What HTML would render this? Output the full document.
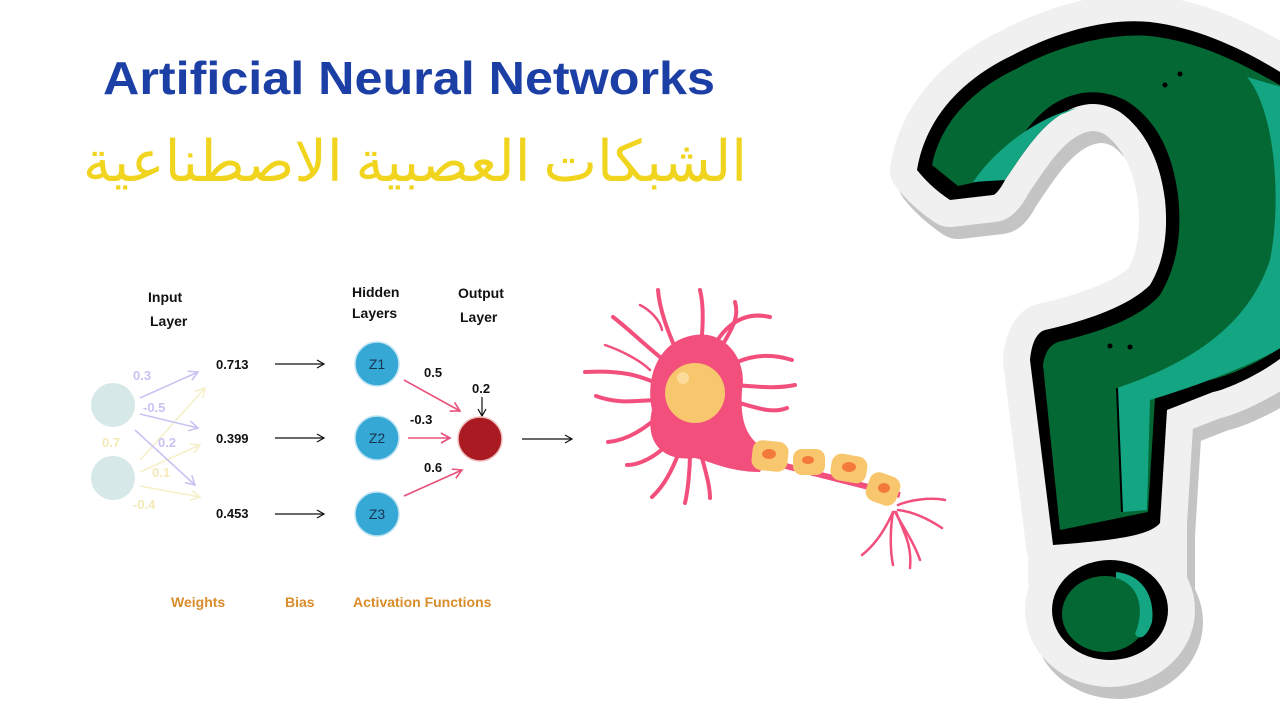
<!DOCTYPE html>
<html><head><meta charset="utf-8"><style>
body{margin:0;width:1280px;height:720px;background:#fff;overflow:hidden;position:relative;font-family:"Liberation Sans",sans-serif}
svg{position:absolute;left:0;top:0}
#ar{position:absolute;left:40px;top:112px;width:750px;text-align:center;direction:rtl;font-family:"Noto Sans CJK SC","DejaVu Sans",sans-serif;font-size:57px;line-height:90px;color:#f1d41e;white-space:nowrap}
</style></head><body>
<svg width="1280" height="720" viewBox="0 0 1280 720" xmlns="http://www.w3.org/2000/svg">
<defs>
<marker id="ab" markerWidth="10" markerHeight="10" refX="8" refY="5" orient="auto" markerUnits="userSpaceOnUse"><path d="M1,1 L8,5 L1,9" fill="none" stroke="#111" stroke-width="1.2"/></marker>
<marker id="ap" markerWidth="12" markerHeight="12" refX="10" refY="6" orient="auto" markerUnits="userSpaceOnUse"><path d="M1,1 L10,6 L1,11" fill="none" stroke="#e8507a" stroke-width="1.6"/></marker>
<marker id="av" markerWidth="12" markerHeight="12" refX="10" refY="6" orient="auto" markerUnits="userSpaceOnUse"><path d="M1,1 L10,6 L1,11" fill="none" stroke="#c9c3f2" stroke-width="1.6"/></marker>
<marker id="ay" markerWidth="12" markerHeight="12" refX="10" refY="6" orient="auto" markerUnits="userSpaceOnUse"><path d="M1,1 L10,6 L1,11" fill="none" stroke="#f6f0c8" stroke-width="1.6"/></marker>
<path id="qh" d="M917,170 C925,120 960,80 1013,55 C1060,30 1110,18 1150,22 C1200,28 1245,50 1285,75 L1285,355 C1260,375 1225,390 1213,392 L1167,410 L1160,523 C1150,535 1120,540 1053,545 L1030,360 C1032,340 1038,332 1045,330 C1090,320 1130,305 1150,285 C1165,260 1168,230 1165,200 C1160,160 1145,130 1120,112 C1100,100 1080,102 1060,115 C1040,128 1025,150 1005,180 C1000,190 995,195 993,195 L950,200 C935,190 925,180 917,170 Z"/>
<g id="stk">
<use href="#qh"/><ellipse cx="1110" cy="610" rx="58" ry="50"/><rect x="1055" y="520" width="105" height="60"/>
</g>
</defs>

<!-- Question mark sticker -->
<g fill="#c4c4c4" stroke="#c4c4c4" stroke-width="54" stroke-linejoin="round" transform="translate(8,12)"><use href="#stk"/></g>
<g fill="#f0f0f0" stroke="#f0f0f0" stroke-width="54" stroke-linejoin="round"><use href="#stk"/></g>
<use href="#qh" fill="#000"/>
<path d="M932,165 C940,125 970,90 1018,68 C1060,45 1110,33 1150,36 C1200,42 1240,62 1285,88 L1285,345 C1255,365 1225,378 1200,382 L1155,398 L1148,512 L1060,530 L1043,365 C1045,352 1050,345 1058,342 C1100,332 1140,318 1160,295 C1178,265 1182,230 1178,195 C1172,150 1155,118 1125,100 C1100,88 1075,90 1052,105 C1030,120 1015,145 995,178 L958,186 Z" fill="#036834"/>
<path d="M1247,77 C1275,110 1282,200 1270,260 C1250,320 1200,360 1117,388 L1123,512 L1147,510 L1150,400 C1200,385 1260,362 1285,345 L1285,88 Z" fill="#14a583"/>
<path d="M1117,388 L1122,512" stroke="#000" stroke-width="2"/>
<path d="M973,182 C995,150 1035,118 1077,108 L1060,115 C1040,128 1025,150 1005,180 Z" fill="#14a583"/>
<ellipse cx="1110" cy="610" rx="58" ry="50" fill="#000"/>
<ellipse cx="1105" cy="614" rx="43" ry="38" fill="#036834"/>
<path d="M1116,572 C1145,575 1155,600 1152,622 C1148,635 1140,642 1135,634 C1145,610 1140,585 1116,578 Z" fill="#14a583"/>
<circle cx="1165" cy="85" r="2.5" fill="#000"/><circle cx="1180" cy="74" r="2.5" fill="#000"/>
<circle cx="1110" cy="346" r="2.5" fill="#000"/><circle cx="1130" cy="347" r="2.5" fill="#000"/>

<!-- Title -->
<text x="103" y="94" font-family="Liberation Sans" font-weight="bold" font-size="46" fill="#1c3fa6" textLength="612" lengthAdjust="spacingAndGlyphs">Artificial Neural Networks</text>

<g font-family="Liberation Sans" font-weight="bold" font-size="14" fill="#111">
<text x="148" y="302">Input</text><text x="150" y="326">Layer</text>
<text x="352" y="297">Hidden</text><text x="352" y="318">Layers</text>
<text x="458" y="298">Output</text><text x="460" y="322">Layer</text>
</g>
<circle cx="113" cy="405" r="22" fill="#d6e8e8"/>
<circle cx="113" cy="478" r="22" fill="#d6e8e8"/>
<g stroke="#f6f0c8" stroke-width="1.6" fill="none">
<line x1="140" y1="460" x2="205" y2="388" marker-end="url(#ay)"/>
<line x1="140" y1="472" x2="200" y2="445" marker-end="url(#ay)"/>
<line x1="140" y1="486" x2="200" y2="497" marker-end="url(#ay)"/>
</g>
<g stroke="#c9c3f2" stroke-width="1.6" fill="none">
<line x1="140" y1="398" x2="198" y2="372" marker-end="url(#av)"/>
<line x1="140" y1="414" x2="198" y2="428" marker-end="url(#av)"/>
<line x1="135" y1="430" x2="195" y2="485" marker-end="url(#av)"/>
</g>
<g font-family="Liberation Sans" font-weight="bold" font-size="13">
<text x="133" y="380" fill="#c9c3f2">0.3</text>
<text x="143" y="412" fill="#c9c3f2">-0.5</text>
<text x="158" y="447" fill="#c9c3f2">0.2</text>
<text x="102" y="447" fill="#f4eab8">0.7</text>
<text x="152" y="477" fill="#f4eab8">0.1</text>
<text x="133" y="509" fill="#f4eab8">-0.4</text>
</g>

<g font-family="Liberation Sans" font-weight="bold" font-size="13" fill="#111">
<text x="216" y="369">0.713</text><text x="216" y="443">0.399</text><text x="216" y="518">0.453</text>
<text x="424" y="377">0.5</text><text x="472" y="393">0.2</text><text x="410" y="424">-0.3</text><text x="424" y="472">0.6</text>
</g>
<g stroke="#111" stroke-width="1.2">
<line x1="275" y1="364" x2="324" y2="364" marker-end="url(#ab)"/>
<line x1="275" y1="438" x2="324" y2="438" marker-end="url(#ab)"/>
<line x1="275" y1="514" x2="324" y2="514" marker-end="url(#ab)"/>
<line x1="482" y1="397" x2="482" y2="416" marker-end="url(#ab)"/>
<line x1="522" y1="439" x2="572" y2="439" marker-end="url(#ab)"/>
</g>
<g stroke="#e8507a" stroke-width="1.6">
<line x1="404" y1="380" x2="460" y2="411" marker-end="url(#ap)"/>
<line x1="408" y1="438" x2="450" y2="438" marker-end="url(#ap)"/>
<line x1="404" y1="496" x2="462" y2="470" marker-end="url(#ap)"/>
</g>
<g fill="#35a8d6" stroke="#bfe3f2" stroke-width="1.5">
<circle cx="377" cy="364" r="22"/><circle cx="377" cy="438" r="22"/><circle cx="377" cy="514" r="22"/>
</g>
<g font-family="Liberation Sans" font-size="14" fill="#1a3550" text-anchor="middle">
<text x="377" y="369">Z1</text><text x="377" y="443">Z2</text><text x="377" y="519">Z3</text>
</g>
<circle cx="480" cy="439" r="22" fill="#a91a22" stroke="#f0c0c0" stroke-width="1.5"/>

<g font-family="Liberation Sans" font-weight="bold" font-size="14" fill="#d98c2a">
<text x="171" y="607">Weights</text><text x="285" y="607">Bias</text><text x="353" y="607">Activation Functions</text>
</g>

<!-- Neuron -->
<g stroke="#f24f7c" stroke-linecap="round" fill="none" stroke-width="4">
<path d="M680,360 C672,340 660,315 658,290"/><path d="M670,365 C650,350 630,330 613,317"/>
<path d="M660,385 C640,375 620,370 585,372"/><path d="M660,400 C640,400 620,405 596,396"/>
<path d="M665,410 C650,425 630,440 608,442"/><path d="M670,440 C660,455 640,465 627,465"/>
<path d="M680,450 C672,470 665,485 652,497"/><path d="M690,452 C690,470 688,490 685,503"/>
<path d="M700,450 C705,470 710,485 710,498"/><path d="M700,360 C702,335 705,310 700,290"/>
<path d="M710,355 C720,330 740,310 770,317"/><path d="M720,370 C740,360 760,350 792,360"/>
<path d="M728,385 C750,385 770,390 795,385"/><path d="M728,400 C750,405 770,415 787,408"/>
<path d="M720,350 C730,330 740,320 735,302"/>
</g>
<g stroke="#f24f7c" stroke-linecap="round" fill="none" stroke-width="2.5">
<path d="M898,505 C910,500 930,497 945,500"/><path d="M898,510 C915,512 930,520 942,528"/>
<path d="M895,512 C905,530 915,545 920,560"/><path d="M893,512 C885,530 875,545 862,555"/>
<path d="M893,512 C890,530 890,550 893,565"/><path d="M896,512 C905,535 912,545 910,568"/>
<path d="M640,305 C650,310 660,320 662,330"/><path d="M605,345 C620,350 640,360 650,370"/>
</g>
<path d="M695,335 C725,330 748,360 742,390 C740,420 745,440 770,452 L760,472 C730,472 712,462 695,458 C660,462 645,440 652,410 C645,378 658,340 695,335 Z" fill="#f24f7c"/>
<path d="M770,462 L900,495" stroke="#f24f7c" stroke-width="6"/>
<circle cx="695" cy="393" r="30" fill="#f8c66c"/>
<circle cx="683" cy="378" r="6" fill="#fbdc9c"/>
<g fill="#f8c66c">
<rect x="752" y="441" width="36" height="30" rx="10" transform="rotate(6 770 456)"/>
<rect x="793" y="449" width="32" height="26" rx="9"/>
<rect x="831" y="455" width="36" height="27" rx="10" transform="rotate(10 849 468)"/>
<rect x="867" y="474" width="32" height="30" rx="10" transform="rotate(20 883 489)"/>
</g>
<g fill="#f47a3c">
<ellipse cx="769" cy="454" rx="7" ry="5"/><ellipse cx="808" cy="460" rx="6" ry="4"/>
<ellipse cx="849" cy="467" rx="7" ry="5"/><ellipse cx="884" cy="488" rx="6" ry="5"/>
</g>
</svg>
<div id="ar">الشبكات العصبية الاصطناعية</div>
</body></html>
